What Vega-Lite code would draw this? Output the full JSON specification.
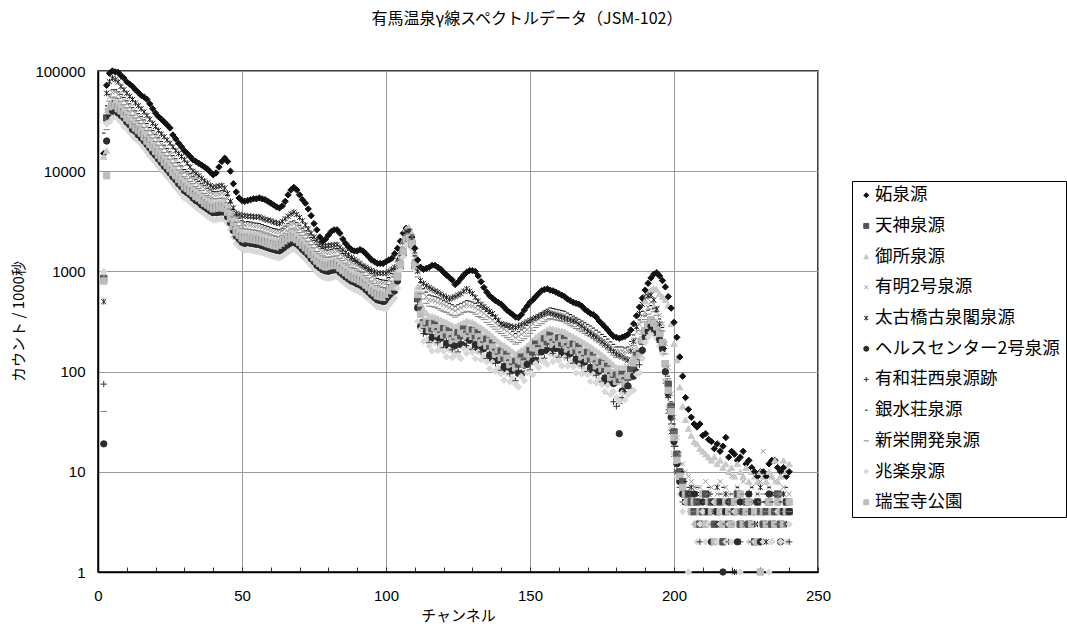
{
"$schema":"https://vega.github.io/schema/vega-lite/v6.json",
"width":720,"height":501,
"autosize":{"type":"none"},
"padding":{"left":98,"top":71,"right":249,"bottom":59},
"background":"white",
"config":{"view":{"stroke":"#000","strokeWidth":1.5},
 "legend":{"title":null,"orient":"none","legendX":754,"legendY":110,"padding":5.5,"strokeColor":"#000","fillColor":"#fff",
  "labelFont":"Noto Sans CJK JP","labelFontSize":17.5,"labelColor":"#000","labelLimit":400,"symbolSize":25,"symbolStrokeWidth":1.1,"rowPadding":11.7,"labelOffset":0}},
"title":{"text":"有馬温泉γ線スペクトルデータ（JSM-102）","font":"Noto Sans CJK JP","fontSize":16,"fontWeight":"normal","color":"#000","anchor":"middle","frame":"group","dx":69,"offset":21,"baseline":"bottom"},
"data":{"values":[
{"x":2,"a":15000,"b":850,"c":14000,"d":900,"e":500,"f":19,"g":75,"h":24000,"i":40,"j":1000,"k":800},
{"x":3,"a":72000,"b":34000,"c":16000,"d":40000,"e":60000,"f":20000,"g":30000,"h":45000,"i":26000,"j":30000,"k":9000},
{"x":4,"a":95000,"b":41000,"c":46000,"d":55000,"e":78000,"f":36000,"g":37000,"h":58500,"i":50000,"j":31000,"k":40000},
{"x":5,"a":100000,"b":46000,"c":51000,"d":61000,"e":85000,"f":40000,"g":42000,"h":65000,"i":55000,"j":34000,"k":44000},
{"x":6,"a":98000,"b":47000,"c":50000,"d":62000,"e":82000,"f":39000,"g":41000,"h":65000,"i":54000,"j":35000,"k":45000},
{"x":7,"a":97000,"b":44000,"c":49000,"d":58000,"e":78000,"f":38000,"g":40000,"h":62000,"i":53000,"j":33000,"k":42000},
{"x":8,"a":90000,"b":41000,"c":46000,"d":55000,"e":70000,"f":36000,"g":37000,"h":58500,"i":50000,"j":31000,"k":40000},
{"x":9,"a":85000,"b":39000,"c":43000,"d":51000,"e":65000,"f":34000,"g":35000,"h":54500,"i":46000,"j":28000,"k":37000},
{"x":10,"a":78000,"b":36000,"c":40000,"d":48000,"e":60000,"f":31000,"g":32000,"h":50500,"i":43000,"j":26500,"k":34000},
{"x":11,"a":74000,"b":33000,"c":37000,"d":44000,"e":56000,"f":29000,"g":30000,"h":47000,"i":40000,"j":24500,"k":32000},
{"x":12,"a":70000,"b":30000,"c":34000,"d":40000,"e":52000,"f":26000,"g":27000,"h":43000,"i":36000,"j":22500,"k":29000},
{"x":13,"a":65000,"b":28500,"c":32000,"d":38000,"e":48000,"f":25000,"g":26000,"h":40000,"i":34000,"j":21000,"k":27000},
{"x":14,"a":61000,"b":27000,"c":30000,"d":35000,"e":45000,"f":23000,"g":24000,"h":37500,"i":32000,"j":20000,"k":25500},
{"x":15,"a":57000,"b":25000,"c":27500,"d":33000,"e":42000,"f":21500,"g":22500,"h":35000,"i":30000,"j":18500,"k":24000},
{"x":16,"a":55000,"b":23000,"c":25500,"d":30500,"e":39000,"f":20000,"g":21000,"h":32500,"i":27500,"j":17000,"k":22000},
{"x":17,"a":52000,"b":21000,"c":23500,"d":28000,"e":36000,"f":18500,"g":19000,"h":30000,"i":25500,"j":15500,"k":20000},
{"x":18,"a":47000,"b":19500,"c":21500,"d":25500,"e":33000,"f":17000,"g":17500,"h":27300,"i":23000,"j":14300,"k":18500},
{"x":19,"a":42000,"b":18000,"c":20000,"d":24000,"e":30000,"f":15500,"g":16200,"h":25400,"i":21500,"j":13200,"k":17200},
{"x":20,"a":38000,"b":16500,"c":18400,"d":22000,"e":28000,"f":14400,"g":15000,"h":23400,"i":19800,"j":12200,"k":15800},
{"x":21,"a":35000,"b":15200,"c":16800,"d":20000,"e":25500,"f":13200,"g":13700,"h":21500,"i":18200,"j":11200,"k":14500},
{"x":22,"a":33000,"b":14000,"c":15500,"d":18500,"e":23500,"f":12200,"g":12600,"h":19800,"i":16700,"j":10300,"k":13400},
{"x":23,"a":31000,"b":12900,"c":14300,"d":17100,"e":22000,"f":11200,"g":11600,"h":18200,"i":15400,"j":9500,"k":12300},
{"x":24,"a":29000,"b":12000,"c":13300,"d":15900,"e":20500,"f":10400,"g":10800,"h":16900,"i":14300,"j":8800,"k":11400},
{"x":25,"a":27000,"b":11000,"c":12200,"d":14600,"e":19000,"f":9600,"g":10000,"h":15600,"i":13200,"j":8200,"k":10600},
{"x":26,"a":23000,"b":10100,"c":11200,"d":13400,"e":17500,"f":8800,"g":9100,"h":14300,"i":12100,"j":7500,"k":9700},
{"x":27,"a":21000,"b":9400,"c":10400,"d":12400,"e":16000,"f":8200,"g":8500,"h":13300,"i":11200,"j":6900,"k":9000},
{"x":28,"a":19000,"b":8600,"c":9600,"d":11500,"e":15000,"f":7500,"g":7800,"h":12200,"i":10300,"j":6400,"k":8300},
{"x":29,"a":17500,"b":8000,"c":8900,"d":10600,"e":14000,"f":7000,"g":7200,"h":11300,"i":9600,"j":5900,"k":7700},
{"x":30,"a":16000,"b":7400,"c":8200,"d":9800,"e":13000,"f":6400,"g":6600,"h":10400,"i":8800,"j":5400,"k":7000},
{"x":31,"a":15000,"b":7000,"c":7800,"d":9300,"e":12000,"f":6100,"g":6300,"h":9900,"i":8400,"j":5200,"k":6700},
{"x":32,"a":14000,"b":6600,"c":7300,"d":8800,"e":11000,"f":5800,"g":6000,"h":9400,"i":7900,"j":4900,"k":6300},
{"x":33,"a":13000,"b":6300,"c":6900,"d":8300,"e":10000,"f":5400,"g":5600,"h":8800,"i":7500,"j":4600,"k":6000},
{"x":34,"a":12500,"b":5900,"c":6500,"d":7800,"e":9500,"f":5100,"g":5300,"h":8300,"i":7000,"j":4350,"k":5600},
{"x":35,"a":12000,"b":5600,"c":6200,"d":7400,"e":9000,"f":4900,"g":5100,"h":7900,"i":6700,"j":4150,"k":5400},
{"x":36,"a":11500,"b":5300,"c":5900,"d":7100,"e":8500,"f":4600,"g":4800,"h":7500,"i":6400,"j":3950,"k":5100},
{"x":37,"a":11000,"b":5100,"c":5600,"d":6700,"e":8000,"f":4400,"g":4600,"h":7150,"i":6000,"j":3750,"k":4800},
{"x":38,"a":10500,"b":4800,"c":5300,"d":6300,"e":7600,"f":4200,"g":4300,"h":6750,"i":5700,"j":3550,"k":4600},
{"x":39,"a":9800,"b":4600,"c":5100,"d":6100,"e":7200,"f":4000,"g":4150,"h":6500,"i":5500,"j":3400,"k":4400},
{"x":40,"a":9200,"b":4400,"c":4900,"d":5900,"e":6900,"f":3850,"g":4000,"h":6250,"i":5300,"j":3250,"k":4200},
{"x":41,"a":9600,"b":4400,"c":4900,"d":5850,"e":7000,"f":3850,"g":4000,"h":6250,"i":5300,"j":3250,"k":4200},
{"x":42,"a":11000,"b":4450,"c":4950,"d":5900,"e":7100,"f":3900,"g":4050,"h":6300,"i":5350,"j":3300,"k":4250},
{"x":43,"a":12500,"b":4500,"c":5000,"d":6000,"e":7200,"f":3900,"g":4050,"h":6400,"i":5400,"j":3350,"k":4300},
{"x":44,"a":13500,"b":4450,"c":4950,"d":5900,"e":6800,"f":3900,"g":4000,"h":6300,"i":5300,"j":3300,"k":4250},
{"x":45,"a":12500,"b":4050,"c":4500,"d":5350,"e":6000,"f":3500,"g":3650,"h":5700,"i":4850,"j":3000,"k":3900},
{"x":46,"a":10000,"b":3500,"c":3900,"d":4650,"e":5000,"f":3050,"g":3150,"h":4950,"i":4200,"j":2600,"k":3350},
{"x":47,"a":7500,"b":2950,"c":3250,"d":3900,"e":4300,"f":2550,"g":2650,"h":4150,"i":3500,"j":2200,"k":2800},
{"x":48,"a":6200,"b":2600,"c":2850,"d":3400,"e":3800,"f":2250,"g":2300,"h":3650,"i":3100,"j":1900,"k":2450},
{"x":49,"a":5400,"b":2400,"c":2650,"d":3150,"e":3700,"f":2100,"g":2150,"h":3400,"i":2850,"j":1770,"k":2300},
{"x":50,"a":5100,"b":2250,"c":2500,"d":3000,"e":3600,"f":1950,"g":2050,"h":3200,"i":2700,"j":1670,"k":2150},
{"x":51,"a":5000,"b":2200,"c":2450,"d":2900,"e":3600,"f":1900,"g":2000,"h":3100,"i":2650,"j":1630,"k":2100},
{"x":52,"a":5100,"b":2200,"c":2450,"d":2950,"e":3550,"f":1950,"g":1980,"h":3150,"i":2640,"j":1650,"k":2120},
{"x":53,"a":5200,"b":2190,"c":2430,"d":2900,"e":3550,"f":1900,"g":1980,"h":3100,"i":2620,"j":1620,"k":2090},
{"x":54,"a":5300,"b":2160,"c":2400,"d":2870,"e":3500,"f":1880,"g":1950,"h":3050,"i":2590,"j":1600,"k":2070},
{"x":55,"a":5300,"b":2140,"c":2380,"d":2840,"e":3500,"f":1860,"g":1930,"h":3030,"i":2560,"j":1580,"k":2050},
{"x":56,"a":5400,"b":2120,"c":2350,"d":2800,"e":3500,"f":1840,"g":1910,"h":3000,"i":2530,"j":1560,"k":2020},
{"x":57,"a":5300,"b":2070,"c":2300,"d":2750,"e":3400,"f":1800,"g":1870,"h":2930,"i":2480,"j":1530,"k":1980},
{"x":58,"a":5200,"b":2020,"c":2240,"d":2680,"e":3300,"f":1760,"g":1830,"h":2860,"i":2420,"j":1500,"k":1940},
{"x":59,"a":5000,"b":1980,"c":2190,"d":2620,"e":3250,"f":1720,"g":1780,"h":2800,"i":2370,"j":1460,"k":1890},
{"x":60,"a":4800,"b":1930,"c":2140,"d":2560,"e":3200,"f":1680,"g":1740,"h":2730,"i":2310,"j":1430,"k":1850},
{"x":61,"a":4600,"b":1900,"c":2100,"d":2510,"e":3100,"f":1650,"g":1710,"h":2680,"i":2270,"j":1400,"k":1810},
{"x":62,"a":4400,"b":1870,"c":2070,"d":2480,"e":3050,"f":1620,"g":1680,"h":2640,"i":2230,"j":1380,"k":1790},
{"x":63,"a":4300,"b":1840,"c":2040,"d":2440,"e":3000,"f":1600,"g":1660,"h":2600,"i":2200,"j":1360,"k":1760},
{"x":64,"a":4500,"b":1910,"c":2120,"d":2540,"e":3150,"f":1660,"g":1730,"h":2700,"i":2290,"j":1410,"k":1830},
{"x":65,"a":5000,"b":2010,"c":2220,"d":2660,"e":3350,"f":1740,"g":1810,"h":2830,"i":2400,"j":1480,"k":1920},
{"x":66,"a":5800,"b":2120,"c":2350,"d":2810,"e":3550,"f":1840,"g":1910,"h":2990,"i":2530,"j":1560,"k":2020},
{"x":67,"a":6500,"b":2210,"c":2450,"d":2930,"e":3750,"f":1920,"g":1990,"h":3120,"i":2640,"j":1630,"k":2110},
{"x":68,"a":6900,"b":2250,"c":2500,"d":2990,"e":3900,"f":1960,"g":2030,"h":3190,"i":2700,"j":1670,"k":2160},
{"x":69,"a":6500,"b":2160,"c":2400,"d":2870,"e":3700,"f":1880,"g":1950,"h":3060,"i":2590,"j":1600,"k":2070},
{"x":70,"a":5800,"b":2040,"c":2260,"d":2710,"e":3450,"f":1780,"g":1840,"h":2890,"i":2440,"j":1510,"k":1950},
{"x":71,"a":5200,"b":1910,"c":2120,"d":2540,"e":3200,"f":1660,"g":1730,"h":2700,"i":2290,"j":1410,"k":1830},
{"x":72,"a":4800,"b":1790,"c":1990,"d":2380,"e":2900,"f":1560,"g":1620,"h":2540,"i":2150,"j":1330,"k":1720},
{"x":73,"a":4200,"b":1670,"c":1860,"d":2220,"e":2650,"f":1460,"g":1510,"h":2370,"i":2000,"j":1240,"k":1600},
{"x":74,"a":3600,"b":1550,"c":1710,"d":2050,"e":2400,"f":1340,"g":1390,"h":2180,"i":1850,"j":1140,"k":1480},
{"x":75,"a":3000,"b":1440,"c":1590,"d":1900,"e":2200,"f":1250,"g":1290,"h":2030,"i":1720,"j":1060,"k":1370},
{"x":76,"a":2600,"b":1320,"c":1470,"d":1760,"e":2050,"f":1150,"g":1200,"h":1870,"i":1580,"j":980,"k":1270},
{"x":77,"a":2200,"b":1250,"c":1390,"d":1660,"e":1900,"f":1090,"g":1130,"h":1770,"i":1500,"j":920,"k":1200},
{"x":78,"a":2000,"b":1200,"c":1330,"d":1590,"e":1800,"f":1040,"g":1080,"h":1690,"i":1430,"j":880,"k":1140},
{"x":79,"a":2100,"b":1160,"c":1290,"d":1540,"e":1800,"f":1010,"g":1050,"h":1640,"i":1390,"j":860,"k":1110},
{"x":80,"a":2300,"b":1150,"c":1280,"d":1530,"e":1800,"f":1000,"g":1040,"h":1630,"i":1380,"j":850,"k":1100},
{"x":81,"a":2500,"b":1170,"c":1300,"d":1550,"e":1820,"f":1020,"g":1050,"h":1650,"i":1400,"j":860,"k":1120},
{"x":82,"a":2600,"b":1190,"c":1320,"d":1570,"e":1840,"f":1030,"g":1070,"h":1680,"i":1420,"j":880,"k":1140},
{"x":83,"a":2600,"b":1200,"c":1330,"d":1590,"e":1850,"f":1040,"g":1080,"h":1690,"i":1430,"j":880,"k":1140},
{"x":84,"a":2400,"b":1130,"c":1250,"d":1500,"e":1740,"f":980,"g":1020,"h":1600,"i":1350,"j":840,"k":1080},
{"x":85,"a":2100,"b":1070,"c":1180,"d":1420,"e":1640,"f":930,"g":960,"h":1510,"i":1280,"j":790,"k":1020},
{"x":86,"a":1900,"b":1010,"c":1120,"d":1340,"e":1550,"f":880,"g":910,"h":1430,"i":1210,"j":750,"k":970},
{"x":87,"a":1750,"b":970,"c":1070,"d":1280,"e":1460,"f":840,"g":870,"h":1370,"i":1160,"j":710,"k":920},
{"x":88,"a":1650,"b":920,"c":1020,"d":1220,"e":1380,"f":800,"g":830,"h":1300,"i":1100,"j":680,"k":880},
{"x":89,"a":1600,"b":890,"c":990,"d":1180,"e":1320,"f":780,"g":810,"h":1260,"i":1070,"j":660,"k":850},
{"x":90,"a":1600,"b":860,"c":960,"d":1150,"e":1260,"f":750,"g":780,"h":1220,"i":1030,"j":640,"k":830},
{"x":91,"a":1650,"b":840,"c":930,"d":1110,"e":1200,"f":730,"g":760,"h":1180,"i":1000,"j":620,"k":800},
{"x":92,"a":1600,"b":810,"c":900,"d":1070,"e":1140,"f":700,"g":730,"h":1140,"i":970,"j":600,"k":770},
{"x":93,"a":1500,"b":760,"c":850,"d":1010,"e":1100,"f":660,"g":690,"h":1080,"i":910,"j":560,"k":730},
{"x":94,"a":1400,"b":720,"c":800,"d":950,"e":1060,"f":620,"g":650,"h":1010,"i":860,"j":530,"k":690},
{"x":95,"a":1300,"b":670,"c":740,"d":890,"e":1020,"f":580,"g":610,"h":950,"i":800,"j":500,"k":640},
{"x":96,"a":1250,"b":630,"c":700,"d":840,"e":990,"f":550,"g":570,"h":900,"i":760,"j":470,"k":610},
{"x":97,"a":1200,"b":600,"c":660,"d":790,"e":960,"f":520,"g":540,"h":850,"i":720,"j":440,"k":570},
{"x":98,"a":1200,"b":590,"c":650,"d":780,"e":960,"f":510,"g":530,"h":830,"i":700,"j":435,"k":560},
{"x":99,"a":1200,"b":580,"c":640,"d":770,"e":960,"f":500,"g":520,"h":820,"i":690,"j":430,"k":550},
{"x":100,"a":1250,"b":570,"c":630,"d":760,"e":960,"f":500,"g":510,"h":810,"i":680,"j":420,"k":550},
{"x":101,"a":1300,"b":620,"c":680,"d":820,"e":1000,"f":540,"g":560,"h":870,"i":740,"j":460,"k":590},
{"x":102,"a":1350,"b":670,"c":740,"d":890,"e":1050,"f":580,"g":610,"h":950,"i":800,"j":500,"k":640},
{"x":103,"a":1500,"b":740,"c":820,"d":980,"e":1100,"f":640,"g":660,"h":1040,"i":880,"j":540,"k":700},
{"x":104,"a":1700,"b":920,"c":1020,"d":1220,"e":1300,"f":800,"g":830,"h":1300,"i":1100,"j":680,"k":880},
{"x":105,"a":2000,"b":1170,"c":1500,"d":1370,"e":1600,"f":1100,"g":1100,"h":1430,"i":1300,"j":1040,"k":1170},
{"x":106,"a":2400,"b":1580,"c":2010,"d":1840,"e":2000,"f":1490,"g":1490,"h":1930,"i":1750,"j":1400,"k":1580},
{"x":107,"a":2700,"b":2070,"c":2650,"d":2420,"e":2500,"f":1960,"g":1960,"h":2530,"i":2300,"j":1840,"k":2070},
{"x":108,"a":2600,"b":2160,"c":2760,"d":2520,"e":2500,"f":2040,"g":2040,"h":2640,"i":2400,"j":1920,"k":2160},
{"x":109,"a":2200,"b":1890,"c":2420,"d":2210,"e":2100,"f":1790,"g":1790,"h":2310,"i":2100,"j":1680,"k":1890},
{"x":110,"a":1700,"b":1170,"c":1500,"d":1370,"e":1600,"f":1100,"g":1100,"h":1430,"i":1300,"j":1040,"k":1170},
{"x":111,"a":1300,"b":532,"c":700,"d":1020,"e":1000,"f":432,"g":462,"h":1120,"i":880,"j":315,"k":589},
{"x":112,"a":1100,"b":422,"c":480,"d":700,"e":810,"f":281,"g":288,"h":770,"i":600,"j":264,"k":374},
{"x":113,"a":1050,"b":309,"c":420,"d":610,"e":760,"f":287,"g":239,"h":670,"i":530,"j":200,"k":295},
{"x":114,"a":1070,"b":308,"c":385,"d":560,"e":720,"f":250,"g":259,"h":620,"i":480,"j":208,"k":318},
{"x":115,"a":1100,"b":302,"c":360,"d":520,"e":690,"f":257,"g":194,"h":580,"i":450,"j":180,"k":261},
{"x":116,"a":1150,"b":270,"c":355,"d":515,"e":665,"f":219,"g":234,"h":570,"i":445,"j":160,"k":299},
{"x":117,"a":1150,"b":308,"c":350,"d":510,"e":640,"f":205,"g":210,"h":560,"i":440,"j":193,"k":273},
{"x":118,"a":1100,"b":250,"c":340,"d":490,"e":620,"f":232,"g":194,"h":545,"i":425,"j":162,"k":239},
{"x":119,"a":1050,"b":264,"c":330,"d":480,"e":595,"f":215,"g":222,"h":530,"i":410,"j":178,"k":273},
{"x":120,"a":980,"b":269,"c":320,"d":465,"e":570,"f":229,"g":173,"h":510,"i":400,"j":160,"k":232},
{"x":121,"a":920,"b":236,"c":310,"d":450,"e":550,"f":191,"g":205,"h":495,"i":390,"j":140,"k":261},
{"x":122,"a":870,"b":264,"c":300,"d":435,"e":530,"f":176,"g":180,"h":480,"i":375,"j":165,"k":234},
{"x":123,"a":820,"b":213,"c":290,"d":420,"e":545,"f":198,"g":165,"h":465,"i":365,"j":138,"k":204},
{"x":124,"a":740,"b":224,"c":280,"d":405,"e":560,"f":182,"g":188,"h":450,"i":350,"j":151,"k":232},
{"x":125,"a":780,"b":244,"c":290,"d":420,"e":580,"f":207,"g":157,"h":465,"i":365,"j":145,"k":210},
{"x":126,"a":850,"b":228,"c":300,"d":435,"e":600,"f":185,"g":198,"h":480,"i":375,"j":135,"k":253},
{"x":127,"a":920,"b":273,"c":310,"d":450,"e":635,"f":181,"g":186,"h":495,"i":390,"j":171,"k":242},
{"x":128,"a":980,"b":236,"c":320,"d":465,"e":670,"f":218,"g":182,"h":510,"i":400,"j":152,"k":225},
{"x":129,"a":1020,"b":252,"c":315,"d":455,"e":635,"f":205,"g":212,"h":505,"i":395,"j":170,"k":261},
{"x":130,"a":1020,"b":260,"c":310,"d":450,"e":600,"f":222,"g":167,"h":495,"i":390,"j":155,"k":225},
{"x":131,"a":1000,"b":228,"c":300,"d":435,"e":550,"f":185,"g":198,"h":480,"i":375,"j":135,"k":253},
{"x":132,"a":900,"b":251,"c":285,"d":415,"e":505,"f":167,"g":171,"h":455,"i":355,"j":157,"k":222},
{"x":133,"a":790,"b":202,"c":275,"d":400,"e":470,"f":188,"g":157,"h":440,"i":345,"j":131,"k":193},
{"x":134,"a":690,"b":210,"c":262,"d":380,"e":445,"f":170,"g":176,"h":420,"i":330,"j":141,"k":217},
{"x":135,"a":620,"b":210,"c":250,"d":360,"e":420,"f":179,"g":135,"h":400,"i":310,"j":125,"k":181},
{"x":136,"a":570,"b":180,"c":237,"d":345,"e":400,"f":146,"g":156,"h":380,"i":295,"j":107,"k":200},
{"x":137,"a":540,"b":198,"c":225,"d":325,"e":380,"f":132,"g":135,"h":360,"i":280,"j":124,"k":176},
{"x":138,"a":510,"b":156,"c":212,"d":305,"e":350,"f":145,"g":121,"h":340,"i":265,"j":101,"k":149},
{"x":139,"a":490,"b":160,"c":200,"d":290,"e":325,"f":130,"g":134,"h":320,"i":250,"j":108,"k":165},
{"x":140,"a":470,"b":160,"c":190,"d":275,"e":300,"f":136,"g":103,"h":305,"i":240,"j":95,"k":138},
{"x":141,"a":440,"b":138,"c":182,"d":265,"e":295,"f":112,"g":120,"h":290,"i":228,"j":82,"k":153},
{"x":142,"a":410,"b":153,"c":174,"d":252,"e":290,"f":102,"g":104,"h":278,"i":218,"j":96,"k":136},
{"x":143,"a":390,"b":122,"c":166,"d":240,"e":285,"f":113,"g":95,"h":265,"i":208,"j":79,"k":117},
{"x":144,"a":370,"b":126,"c":158,"d":229,"e":280,"f":103,"g":106,"h":253,"i":198,"j":85,"k":131},
{"x":145,"a":350,"b":126,"c":150,"d":218,"e":275,"f":107,"g":81,"h":240,"i":188,"j":75,"k":109},
{"x":146,"a":345,"b":119,"c":156,"d":226,"e":284,"f":96,"g":103,"h":250,"i":195,"j":70,"k":131},
{"x":147,"a":370,"b":143,"c":163,"d":236,"e":293,"f":95,"g":98,"h":261,"i":204,"j":90,"k":127},
{"x":148,"a":410,"b":125,"c":170,"d":247,"e":303,"f":116,"g":97,"h":272,"i":213,"j":81,"k":119},
{"x":149,"a":450,"b":145,"c":181,"d":262,"e":314,"f":118,"g":122,"h":290,"i":226,"j":98,"k":150},
{"x":150,"a":490,"b":162,"c":193,"d":280,"e":325,"f":138,"g":104,"h":309,"i":241,"j":97,"k":140},
{"x":151,"a":520,"b":157,"c":206,"d":299,"e":335,"f":127,"g":136,"h":330,"i":258,"j":93,"k":173},
{"x":152,"a":560,"b":194,"c":220,"d":319,"e":345,"f":129,"g":132,"h":352,"i":275,"j":121,"k":172},
{"x":153,"a":600,"b":169,"c":230,"d":334,"e":356,"f":157,"g":131,"h":368,"i":288,"j":109,"k":161},
{"x":154,"a":640,"b":193,"c":241,"d":349,"e":367,"f":157,"g":162,"h":386,"i":301,"j":130,"k":199},
{"x":155,"a":660,"b":212,"c":252,"d":365,"e":378,"f":180,"g":136,"h":403,"i":315,"j":126,"k":183},
{"x":156,"a":670,"b":199,"c":262,"d":380,"e":390,"f":162,"g":173,"h":419,"i":328,"j":118,"k":221},
{"x":157,"a":650,"b":238,"c":270,"d":392,"e":382,"f":158,"g":162,"h":432,"i":338,"j":149,"k":211},
{"x":158,"a":640,"b":196,"c":266,"d":386,"e":374,"f":182,"g":152,"h":426,"i":333,"j":126,"k":187},
{"x":159,"a":620,"b":210,"c":262,"d":380,"e":366,"f":170,"g":176,"h":419,"i":328,"j":141,"k":217},
{"x":160,"a":600,"b":217,"c":258,"d":374,"e":358,"f":184,"g":139,"h":413,"i":323,"j":129,"k":187},
{"x":161,"a":580,"b":193,"c":254,"d":368,"e":350,"f":157,"g":168,"h":406,"i":318,"j":114,"k":214},
{"x":162,"a":560,"b":220,"c":250,"d":363,"e":342,"f":146,"g":150,"h":400,"i":313,"j":138,"k":195},
{"x":163,"a":530,"b":177,"c":240,"d":348,"e":335,"f":164,"g":137,"h":384,"i":300,"j":114,"k":168},
{"x":164,"a":510,"b":186,"c":232,"d":336,"e":328,"f":151,"g":156,"h":371,"i":290,"j":125,"k":192},
{"x":165,"a":490,"b":188,"c":224,"d":325,"e":321,"f":160,"g":121,"h":358,"i":280,"j":112,"k":162},
{"x":166,"a":480,"b":163,"c":215,"d":312,"e":315,"f":133,"g":142,"h":344,"i":269,"j":97,"k":181},
{"x":167,"a":470,"b":183,"c":208,"d":302,"e":298,"f":122,"g":125,"h":333,"i":260,"j":114,"k":162},
{"x":168,"a":450,"b":147,"c":200,"d":290,"e":283,"f":137,"g":114,"h":320,"i":250,"j":95,"k":140},
{"x":169,"a":420,"b":154,"c":192,"d":278,"e":268,"f":125,"g":129,"h":307,"i":240,"j":104,"k":159},
{"x":170,"a":400,"b":155,"c":185,"d":268,"e":253,"f":132,"g":100,"h":296,"i":231,"j":93,"k":134},
{"x":171,"a":380,"b":135,"c":178,"d":258,"e":240,"f":110,"g":117,"h":285,"i":223,"j":80,"k":150},
{"x":172,"a":370,"b":150,"c":170,"d":247,"e":229,"f":99,"g":102,"h":272,"i":213,"j":94,"k":133},
{"x":173,"a":350,"b":119,"c":162,"d":235,"e":220,"f":111,"g":92,"h":259,"i":203,"j":77,"k":114},
{"x":174,"a":320,"b":124,"c":155,"d":225,"e":209,"f":101,"g":104,"h":248,"i":194,"j":84,"k":128},
{"x":175,"a":300,"b":123,"c":147,"d":213,"e":198,"f":105,"g":79,"h":235,"i":184,"j":74,"k":107},
{"x":176,"a":280,"b":106,"c":140,"d":203,"e":188,"f":86,"g":92,"h":224,"i":175,"j":63,"k":118},
{"x":177,"a":260,"b":116,"c":132,"d":191,"e":178,"f":77,"g":79,"h":211,"i":165,"j":73,"k":103},
{"x":178,"a":240,"b":91,"c":124,"d":180,"e":168,"f":85,"g":60,"h":198,"i":155,"j":59,"k":87},
{"x":179,"a":225,"b":94,"c":117,"d":170,"e":158,"f":76,"g":50,"h":187,"i":146,"j":63,"k":97},
{"x":180,"a":220,"b":92,"c":110,"d":160,"e":150,"f":79,"g":45,"h":176,"i":138,"j":55,"k":80},
{"x":181,"a":215,"b":84,"c":110,"d":160,"e":145,"f":24,"g":48,"h":176,"i":138,"j":50,"k":93},
{"x":182,"a":220,"b":97,"c":110,"d":160,"e":140,"f":64,"g":55,"h":176,"i":138,"j":61,"k":86},
{"x":183,"a":225,"b":81,"c":112,"d":158,"e":135,"f":75,"g":63,"h":172,"i":140,"j":52,"k":77},
{"x":184,"a":235,"b":88,"c":110,"d":160,"e":130,"f":72,"g":74,"h":176,"i":138,"j":59,"k":91},
{"x":185,"a":260,"b":105,"c":125,"d":181,"e":160,"f":89,"g":68,"h":200,"i":156,"j":63,"k":91},
{"x":186,"a":300,"b":110,"c":145,"d":210,"e":200,"f":90,"g":96,"h":232,"i":181,"j":65,"k":122},
{"x":187,"a":360,"b":150,"c":170,"d":247,"e":280,"f":99,"g":102,"h":272,"i":213,"j":94,"k":133},
{"x":188,"a":440,"b":151,"c":205,"d":297,"e":380,"f":140,"g":117,"h":328,"i":256,"j":97,"k":144},
{"x":189,"a":540,"b":200,"c":250,"d":363,"e":470,"f":163,"g":168,"h":400,"i":313,"j":135,"k":207},
{"x":190,"a":650,"b":255,"c":510,"d":390,"e":560,"f":225,"g":210,"h":360,"i":330,"j":195,"k":255},
{"x":191,"a":760,"b":290,"c":580,"d":440,"e":570,"f":255,"g":240,"h":410,"i":375,"j":220,"k":290},
{"x":192,"a":860,"b":325,"c":650,"d":495,"e":580,"f":285,"g":265,"h":455,"i":420,"j":245,"k":325},
{"x":193,"a":940,"b":305,"c":680,"d":470,"e":520,"f":270,"g":250,"h":430,"i":395,"j":235,"k":305},
{"x":194,"a":970,"b":280,"c":660,"d":430,"e":420,"f":250,"g":230,"h":395,"i":365,"j":215,"k":280},
{"x":195,"a":900,"b":240,"c":600,"d":365,"e":300,"f":210,"g":195,"h":335,"i":310,"j":180,"k":240},
{"x":196,"a":810,"b":195,"c":560,"d":300,"e":165,"f":170,"g":160,"h":275,"i":255,"j":150,"k":195},
{"x":197,"a":700,"b":120,"c":520,"d":190,"e":80,"f":100,"g":95,"h":170,"i":150,"j":80,"k":120},
{"x":198,"a":560,"b":75,"c":460,"d":110,"e":40,"f":60,"g":55,"h":90,"i":85,"j":45,"k":65},
{"x":199,"a":430,"b":45,"c":300,"d":60,"e":25,"f":35,"g":30,"h":50,"i":45,"j":28,"k":40},
{"x":200,"a":310,"b":25,"c":190,"d":35,"e":15,"f":20,"g":18,"h":30,"i":25,"j":15,"k":22},
{"x":201,"a":220,"b":15,"c":130,"d":22,"e":10,"f":12,"g":10,"h":18,"i":14,"j":9,"k":13},
{"x":202,"a":140,"b":10,"c":70,"d":15,"e":8,"f":8,"g":7,"h":12,"i":9,"j":6,"k":9},
{"x":203,"a":90,"b":8,"c":45,"d":12,"e":7,"f":6,"g":5,"h":10,"i":7,"j":4,"k":7},
{"x":204,"a":55,"b":6,"c":33,"d":10,"e":6,"f":5,"g":5,"h":8,"i":6,"j":5,"k":6},
{"x":205,"a":42,"b":6,"c":27,"d":9,"e":6,"f":5,"g":6,"h":7,"i":5,"j":1,"k":5},
{"x":206,"a":35,"b":5,"c":23,"d":8,"e":7,"f":4,"g":4,"h":6,"i":6,"j":4,"k":4},
{"x":207,"a":30,"b":4,"c":20,"d":7,"e":5,"f":6,"g":3,"h":5,"i":4,"j":3,"k":5},
{"x":208,"a":28,"b":5,"c":19,"d":6,"e":6,"f":3,"g":5,"h":7,"i":5,"j":2,"k":3},
{"x":209,"a":30,"b":3,"c":17,"d":7,"e":4,"f":4,"g":2,"h":4,"i":3,"j":3,"k":4},
{"x":210,"a":23,"b":4,"c":16,"d":5,"e":5,"f":5,"g":4,"h":6,"i":4,"j":4,"k":6},
{"x":211,"a":24,"b":6,"c":15,"d":8,"e":3,"f":3,"g":3,"h":5,"i":5,"j":2,"k":3},
{"x":212,"a":21,"b":4,"c":14,"d":6,"e":6,"f":4,"g":5,"h":7,"i":6,"j":3,"k":5},
{"x":213,"a":20,"b":5,"c":13,"d":7,"e":5,"f":2,"g":4,"h":6,"i":3,"j":4,"k":4},
{"x":214,"a":17,"b":3,"c":14,"d":5,"e":4,"f":5,"g":2,"h":4,"i":4,"j":5,"k":2},
{"x":215,"a":19,"b":4,"c":12,"d":6,"e":7,"f":4,"g":3,"h":5,"i":5,"j":2,"k":5},
{"x":216,"a":16,"b":5,"c":13,"d":8,"e":5,"f":3,"g":5,"h":6,"i":4,"j":3,"k":4},
{"x":217,"a":18,"b":2,"c":11,"d":4,"e":3,"f":1,"g":4,"h":7,"i":6,"j":4,"k":3},
{"x":218,"a":22,"b":4,"c":12,"d":7,"e":6,"f":4,"g":3,"h":5,"i":3,"j":2,"k":5},
{"x":219,"a":14,"b":3,"c":10,"d":6,"e":4,"f":5,"g":2,"h":4,"i":5,"j":3,"k":4},
{"x":220,"a":16,"b":5,"c":11,"d":9,"e":5,"f":3,"g":4,"h":6,"i":4,"j":2,"k":3},
{"x":221,"a":15,"b":4,"c":9,"d":5,"e":1,"f":4,"g":5,"h":5,"i":3,"j":4,"k":5},
{"x":222,"a":13,"b":6,"c":12,"d":7,"e":6,"f":2,"g":3,"h":7,"i":5,"j":3,"k":4},
{"x":223,"a":14,"b":3,"c":10,"d":6,"e":4,"f":5,"g":2,"h":6,"i":4,"j":1,"k":6},
{"x":224,"a":16,"b":4,"c":9,"d":8,"e":5,"f":3,"g":4,"h":5,"i":6,"j":3,"k":3},
{"x":225,"a":12,"b":5,"c":11,"d":5,"e":3,"f":4,"g":3,"h":4,"i":3,"j":4,"k":4},
{"x":226,"a":13,"b":3,"c":8,"d":6,"e":6,"f":6,"g":5,"h":6,"i":4,"j":2,"k":5},
{"x":227,"a":11,"b":4,"c":10,"d":7,"e":4,"f":3,"g":2,"h":7,"i":5,"j":3,"k":3},
{"x":228,"a":10,"b":2,"c":9,"d":4,"e":5,"f":4,"g":3,"h":5,"i":3,"j":2,"k":4},
{"x":229,"a":9,"b":5,"c":8,"d":6,"e":3,"f":5,"g":4,"h":6,"i":4,"j":4,"k":2},
{"x":230,"a":10,"b":4,"c":10,"d":8,"e":7,"f":2,"g":2,"h":4,"i":5,"j":3,"k":1},
{"x":231,"a":10,"b":3,"c":9,"d":16,"e":4,"f":4,"g":3,"h":5,"i":6,"j":2,"k":4},
{"x":232,"a":9,"b":4,"c":8,"d":5,"e":2,"f":3,"g":5,"h":6,"i":4,"j":3,"k":3},
{"x":233,"a":12,"b":5,"c":10,"d":7,"e":5,"f":6,"g":3,"h":7,"i":3,"j":1,"k":5},
{"x":234,"a":13,"b":3,"c":9,"d":6,"e":6,"f":4,"g":2,"h":5,"i":5,"j":2,"k":4},
{"x":235,"a":13,"b":4,"c":13,"d":8,"e":3,"f":3,"g":4,"h":6,"i":4,"j":3,"k":3},
{"x":236,"a":11,"b":6,"c":8,"d":4,"e":5,"f":5,"g":3,"h":4,"i":6,"j":4,"k":5},
{"x":237,"a":10,"b":3,"c":9,"d":6,"e":4,"f":2,"g":2,"h":5,"i":3,"j":2,"k":4},
{"x":238,"a":11,"b":4,"c":13,"d":7,"e":6,"f":4,"g":4,"h":6,"i":4,"j":3,"k":3},
{"x":239,"a":9,"b":5,"c":10,"d":5,"e":3,"f":5,"g":3,"h":7,"i":5,"j":2,"k":4},
{"x":240,"a":10,"b":4,"c":12,"d":6,"e":5,"f":4,"g":2,"h":5,"i":4,"j":3,"k":5}
]},
"transform":[{"fold":["a","b","c","d","e","f","g","h","i","j","k"],"as":["s","v"]},{"filter":"datum.v > 0"}],
"mark":{"type":"point","size":40,"opacity":1},
"encoding":{
"x":{"field":"x","type":"quantitative","scale":{"domain":[0,250],"nice":false},
 "axis":{"values":[0,10,20,30,40,50,60,70,80,90,100,110,120,130,140,150,160,170,180,190,200,210,220,230,240,250],
  "labelExpr":"datum.value % 50 === 0 ? datum.label : ''","labelOverlap":false,"labelFlush":false,"format":"d",
  "grid":true,"gridColor":{"condition":{"test":"datum.value % 50 === 0","value":"#999999"},"value":"transparent"},"gridWidth":1,
  "ticks":true,"tickSize":-5,"tickColor":"#333","tickWidth":1,
  "domainColor":"#000","domainWidth":1.5,
  "labelFont":"Liberation Sans","labelFontSize":15,"labelColor":"#000","labelPadding":21,
  "title":"チャンネル","titleFont":"Noto Sans CJK JP","titleFontSize":15,"titleFontWeight":"normal","titleColor":"#000",
  "titleX":360,"titleY":43,"titleBaseline":"middle","titleAlign":"center"}},
"y":{"field":"v","type":"quantitative","scale":{"type":"log","domain":[1,100000],"nice":false},
 "axis":{"values":[1,10,100,1000,10000,100000],"format":"d","grid":true,"gridColor":"#999","gridWidth":1,
  "ticks":false,"domainColor":"#000","domainWidth":1.5,
  "labelFont":"Liberation Sans","labelFontSize":15,"labelColor":"#000","labelPadding":13,
  "title":"カウント / 1000秒","titleFont":"Noto Sans CJK JP","titleFontSize":15,"titleFontWeight":"normal","titleColor":"#000",
  "titleX":-80,"titleY":250,"titleAngle":-90,"titleAlign":"center","titleBaseline":"middle"}},
"strokeWidth":{"field":"s","type":"nominal","legend":null,
 "scale":{"domain":["a","b","c","d","e","f","g","h","i","j","k"],"range":[1,1,1,1.3,2,1,1.5,2,2,1,1]}},
"shape":{"field":"s","type":"nominal",
 "scale":{"domain":["a","b","c","d","e","f","g","h","i","j","k"],
  "range":["diamond","square","triangle-up","M-0.75,-0.75L0.75,0.75M-0.75,0.75L0.75,-0.75","M-0.8,-0.8L0.8,0.8M-0.8,0.8L0.8,-0.8M0,-0.95L0,0.95","circle","M-1,0L1,0M0,-1L0,1","M-0.55,0L0.55,0","M-1,0L1,0","diamond","square"]},
 "legend":{"labelExpr":"['妬泉源','天神泉源','御所泉源','有明2号泉源','太古橋古泉閣泉源','ヘルスセンター2号泉源','有和荘西泉源跡','銀水荘泉源','新栄開発泉源','兆楽泉源','瑞宝寺公園'][indexof('abcdefghijk', datum.value)]"}},
"fill":{"field":"s","type":"nominal","scale":{"domain":["a","b","c","d","e","f","g","h","i","j","k"],
  "range":["#111111","#555555","#c8c8c8","#999999","#222222","#2b2b2b","#333333","#111111","#808080","#d9d9d9","#bdbdbd"]},
 "legend":{"labelExpr":"['妬泉源','天神泉源','御所泉源','有明2号泉源','太古橋古泉閣泉源','ヘルスセンター2号泉源','有和荘西泉源跡','銀水荘泉源','新栄開発泉源','兆楽泉源','瑞宝寺公園'][indexof('abcdefghijk', datum.value)]"}},
"stroke":{"field":"s","type":"nominal","scale":{"domain":["a","b","c","d","e","f","g","h","i","j","k"],
  "range":["#111111","#555555","#c8c8c8","#999999","#222222","#2b2b2b","#333333","#111111","#808080","#d9d9d9","#bdbdbd"]},
 "legend":{"labelExpr":"['妬泉源','天神泉源','御所泉源','有明2号泉源','太古橋古泉閣泉源','ヘルスセンター2号泉源','有和荘西泉源跡','銀水荘泉源','新栄開発泉源','兆楽泉源','瑞宝寺公園'][indexof('abcdefghijk', datum.value)]"}}
}
}
